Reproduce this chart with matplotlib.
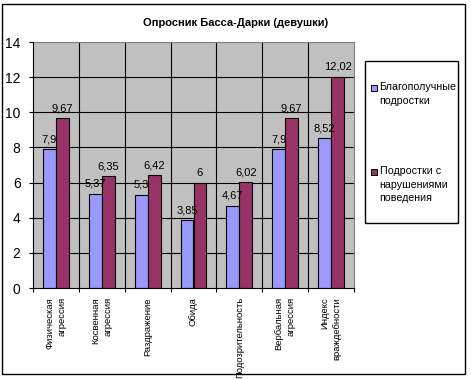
import matplotlib
matplotlib.use("Agg")
import matplotlib.pyplot as plt
from matplotlib.patches import Rectangle
import numpy as np

plt.rcParams['font.family'] = ['Liberation Sans', 'DejaVu Sans']

categories = ["Физическая\nагрессия", "Косвенная\nагрессия", "Раздражение", "Обида",
              "Подозрительность", "Вербальная\nагрессия", "Индекс\nвраждебности"]
good = [7.9, 5.37, 5.3, 3.85, 4.67, 7.9, 8.52]
bad = [9.67, 6.35, 6.42, 6.0, 6.02, 9.67, 12.02]
good_labels = ["7,9", "5,37", "5,3", "3,85", "4,67", "7,9", "8,52"]
bad_labels = ["9,67", "6,35", "6,42", "6", "6,02", "9,67", "12,02"]
series_names = ["Благополучные\nподростки", "Подростки с\nнарушениями\nповедения"]
yticks = [0, 2, 4, 6, 8, 10, 12, 14]

W, H = 471, 379
fig = plt.figure(figsize=(W / 100, H / 100), dpi=100)
fig.patch.set_facecolor('white')

def fx(px): return px / W
def fy(py): return 1 - py / H

# outer border
fig.patches.append(Rectangle((fx(1.5), fy(374)), fx(465) - fx(1.5), fy(4) - fy(374),
                             transform=fig.transFigure, fill=False, edgecolor='black', lw=1.0))

ax = fig.add_axes([fx(33), fy(288), fx(354) - fx(33), fy(42) - fy(288)])
ax.set_facecolor('#C0C0C0')

x = np.arange(len(categories))
w = 0.283
b1 = ax.bar(x - w / 2, good, w, color='#9999FF', edgecolor='black', lw=0.8, zorder=3)
b2 = ax.bar(x + w / 2, bad, w, color='#993366', edgecolor='black', lw=0.8, zorder=3)

for rect, lab in zip(b1, good_labels):
    ax.annotate(lab, (rect.get_x() + rect.get_width() / 2, rect.get_height()),
                xytext=(0, 3.6), textcoords='offset points', ha='center', va='bottom',
                fontsize=8, zorder=5)
for rect, lab in zip(b2, bad_labels):
    ax.annotate(lab, (rect.get_x() + rect.get_width() / 2, rect.get_height()),
                xytext=(0, 3.6), textcoords='offset points', ha='center', va='bottom',
                fontsize=8, zorder=5)

ax.set_xlim(-0.5, len(categories) - 0.5)
ax.set_ylim(0, 14)
ax.set_yticks(yticks)
ax.set_yticklabels([str(v) for v in yticks], fontsize=10)
ax.tick_params(axis='y', length=3, width=0.8, pad=6, direction='out')

# horizontal gridlines
for v in yticks[1:-1]:
    ax.axhline(v, color='black', lw=0.8, zorder=1)
# vertical category-boundary lines
bounds = np.arange(len(categories) + 1) - 0.5
for bx in bounds[1:-1]:
    ax.axvline(bx, color='black', lw=0.8, zorder=1)

ax.set_xticks(x)
ax.set_xticklabels(categories, rotation=90, fontsize=6.8, ha='center', va='top',
                   multialignment='right', linespacing=1.45)
ax.tick_params(axis='x', length=0, pad=6.5)
ax.set_xticks(bounds, minor=True)
ax.tick_params(axis='x', which='minor', length=3, width=0.8, direction='out')

for s in ['top', 'right']:
    ax.spines[s].set_color('#808080')
    ax.spines[s].set_linewidth(0.8)
for s in ['left', 'bottom']:
    ax.spines[s].set_color('black')
    ax.spines[s].set_linewidth(0.8)
    ax.spines[s].set_zorder(4)

fig.text(fx(236), fy(23), "Опросник Басса-Дарки (девушки)", ha='center', va='center',
         fontsize=8, fontweight='bold')

# legend box
fig.patches.append(Rectangle((fx(365), fy(223)), fx(458) - fx(365), fy(61) - fy(223),
                             transform=fig.transFigure, fill=True, facecolor='white',
                             edgecolor='black', lw=1.0))
colors = ['#9999FF', '#993366']
entry_y = [88, 172]
for name, c, ey in zip(series_names, colors, entry_y):
    fig.patches.append(Rectangle((fx(371), fy(ey + 3)), fx(377) - fx(371), fy(ey - 3) - fy(ey + 3),
                                 transform=fig.transFigure, facecolor=c, edgecolor='black', lw=0.7))
    fig.text(fx(379.5), fy(ey - 5.5), name, ha='left', va='top', fontsize=7.7, linespacing=1.38)

fig.savefig("out.png", dpi=100)
